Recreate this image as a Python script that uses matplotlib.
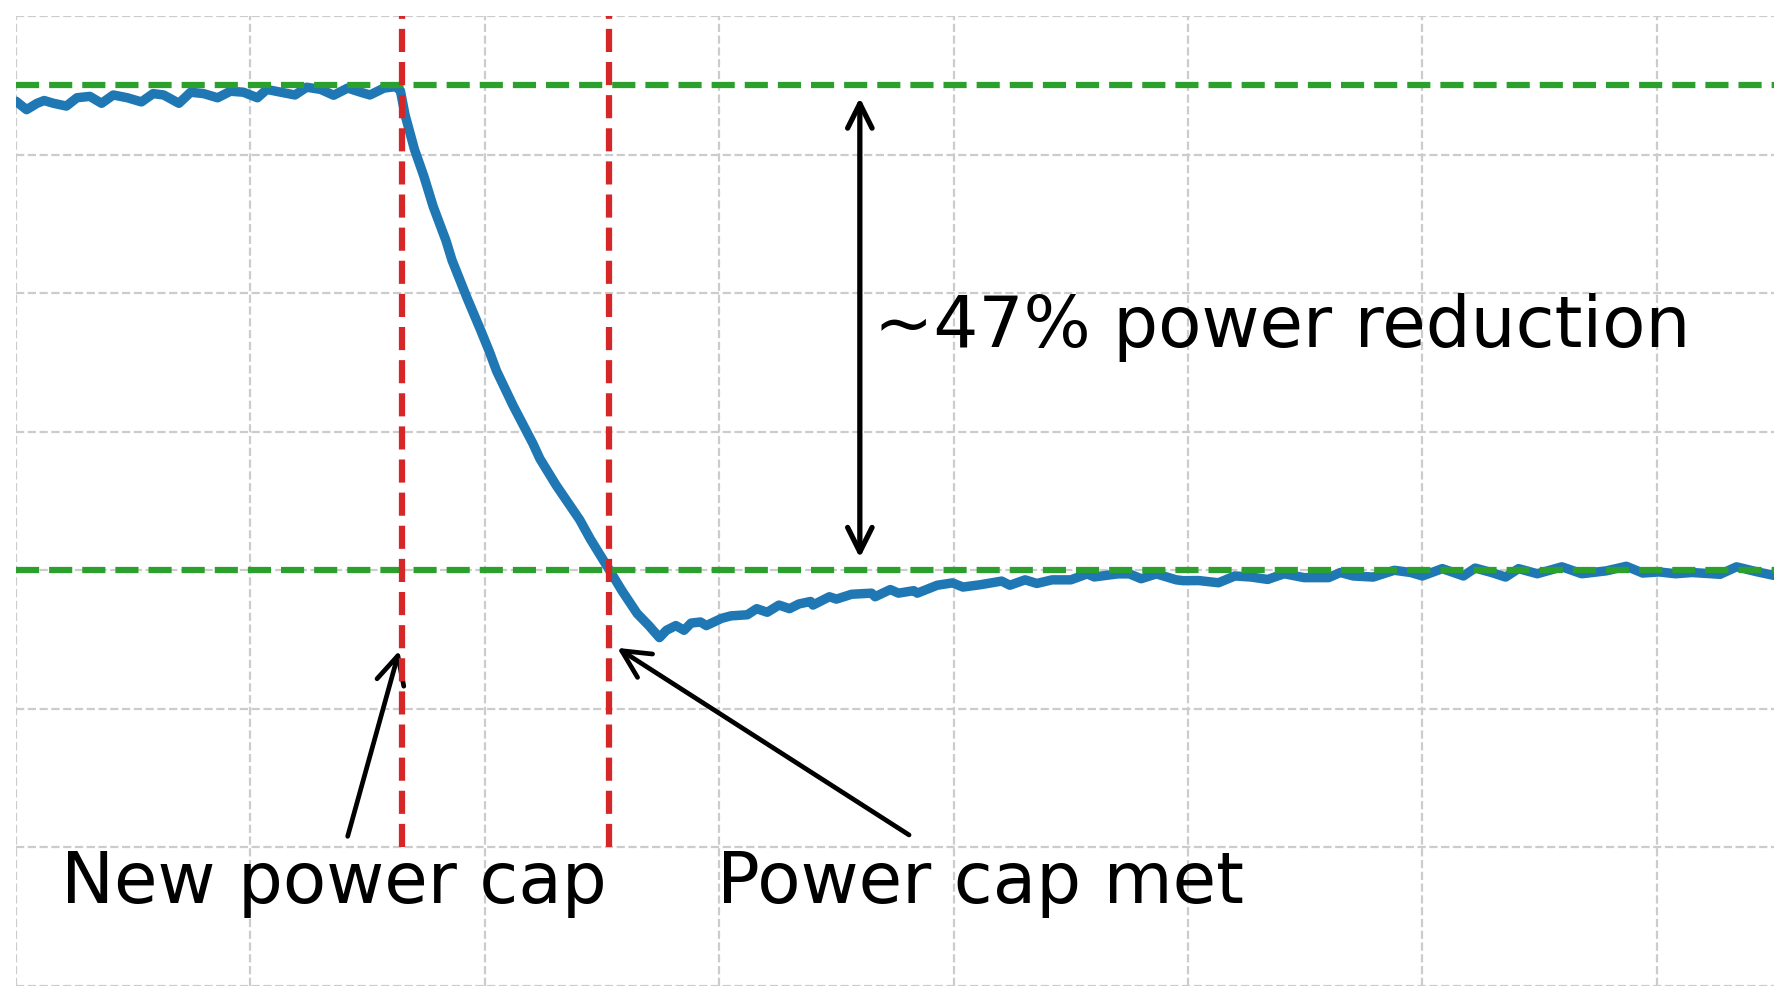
"""
Power cap response: measured power before/after a new cap is applied.
"""

import matplotlib
matplotlib.use('Agg')
import matplotlib.pyplot as plt

# =========================================================================
# Data
# =========================================================================
time_s = [
    0.00, 0.09, 0.18, 0.24, 0.32, 0.43, 0.52, 0.63, 0.73, 0.83,
    0.95, 1.07, 1.17, 1.26, 1.39, 1.49, 1.60, 1.72, 1.83, 1.94,
    2.06, 2.14, 2.26, 2.38, 2.48, 2.60, 2.71, 2.83, 2.94, 3.02,
    3.14, 3.24,
    3.28, 3.32, 3.40, 3.48, 3.56, 3.67, 3.72, 3.85, 3.96, 4.04,
    4.10, 4.24, 4.41, 4.47, 4.61, 4.81, 4.90, 5.06,
    5.17, 5.30, 5.40, 5.49, 5.55, 5.63, 5.70, 5.76, 5.84, 5.89,
    6.02, 6.10, 6.24, 6.32, 6.41, 6.51, 6.60, 6.68, 6.78, 6.80,
    6.94, 7.00, 7.13, 7.30, 7.33, 7.46, 7.53, 7.66, 7.69, 7.86,
    7.99, 8.08, 8.23, 8.41, 8.48, 8.61, 8.71, 8.84, 9.00, 9.14,
    9.20, 9.40, 9.50, 9.60, 9.73, 9.90, 9.96,
    10.09, 10.26, 10.40, 10.54, 10.68, 10.82, 10.99, 11.20, 11.30, 11.41,
    11.58, 11.76, 11.90, 12.00, 12.17, 12.35, 12.45, 12.59, 12.71, 12.82,
    12.98, 13.19, 13.36, 13.57, 13.74, 13.88, 14.02, 14.16, 14.30, 14.54,
    14.68, 14.86, 15.00,
]
power_w = [
    738.5, 732.4, 737.0, 739.0, 737.0, 735.0, 741.0, 742.0, 737.0, 743.0,
    741.0, 738.0, 744.0, 743.0, 737.0, 745.0, 744.0, 741.0, 745.7, 745.0,
    741.0, 747.0, 745.0, 743.0, 748.6, 747.0, 742.8, 748.0, 745.0, 743.0,
    748.0, 749.0,
    746.0, 728.5, 703.7, 684.4, 662.4, 637.6, 623.8, 596.2, 574.2, 557.6,
    543.9, 519.1, 491.5, 480.5, 461.2, 436.4, 422.6, 400.6,
    385.3, 368.8, 360.1, 351.4, 356.7, 360.1, 356.7, 361.9, 362.7, 360.1,
    365.3, 367.1, 367.9, 372.3, 369.7, 374.9, 372.3, 375.7, 377.5, 374.9,
    380.9, 379.2, 382.7, 383.5, 380.9, 386.1, 383.5, 385.3, 383.5, 389.2,
    390.9, 387.9, 389.6, 392.2, 389.2, 393.1, 390.5, 393.1, 393.1, 397.4,
    395.2, 397.4, 397.4, 393.9, 397.4, 393.1, 392.5,
    392.6, 391.0, 395.9, 395.1, 393.4, 397.5, 394.7, 394.7, 398.4, 395.9,
    395.1, 400.0, 398.4, 395.9, 401.2, 395.9, 401.6, 398.4, 395.1, 401.2,
    397.5, 402.5, 397.5, 399.6, 402.9, 398.0, 398.8, 397.5, 398.4, 397.1,
    402.5, 398.8, 396.3,
]

OLD_LEVEL = 750       # W, before the cap
NEW_CAP = 400         # W, new power cap
CAP_SET_T = 3.29      # s, new cap applied
CAP_MET_T = 5.06      # s, cap reached

x_ticks = [0, 2, 4, 6, 8, 10, 12, 14]
y_ticks = [100, 200, 300, 400, 500, 600, 700, 800]


def main():
    fig = plt.figure(figsize=(17.89, 10.02), dpi=100)
    ax = fig.add_axes([16 / 1789, 16 / 1002, 1758 / 1789, 970 / 1002])

    # 功率曲线
    ax.plot(time_s, power_w, color='#1f77b4', linewidth=6.8, zorder=3,
            solid_joinstyle='round', solid_capstyle='round')

    # 原功率 / 新功率上限
    for lvl in (OLD_LEVEL, NEW_CAP):
        ax.axhline(lvl, color='#2ca02c', linestyle='--', linewidth=4.5, zorder=4)

    # 上限设定时刻 / 达到上限时刻
    ax.vlines([CAP_SET_T, CAP_MET_T], 200, 800, colors='#d62728',
              linestyles='--', linewidth=4.5, zorder=5)

    # 降幅双箭头
    ax.annotate('', xy=(7.2, OLD_LEVEL), xytext=(7.2, NEW_CAP),
                arrowprops=dict(arrowstyle='<->', color='black', lw=3.8,
                                mutation_scale=44, shrinkA=9, shrinkB=9),
                zorder=6)
    pct = round((OLD_LEVEL - NEW_CAP) / OLD_LEVEL * 100)
    ax.text(7.32, (OLD_LEVEL + NEW_CAP) / 2, f'~{pct}% power reduction',
            fontsize=51, ha='left', va='center')

    # 注释文字与箭头
    arrow_kw = dict(arrowstyle='->', color='black', lw=3.4,
                    mutation_scale=50, shrinkA=0, shrinkB=0)
    ax.text(2.71, 160, 'New power cap', fontsize=51, ha='center', va='baseline')
    ax.annotate('', xy=(3.27, 342), xytext=(2.83, 208), arrowprops=arrow_kw)
    ax.text(8.23, 160, 'Power cap met', fontsize=51, ha='center', va='baseline')
    ax.annotate('', xy=(5.13, 344), xytext=(7.62, 209), arrowprops=arrow_kw)

    ax.set_xlim(0, 15)
    ax.set_ylim(100, 800)
    ax.set_xticks(x_ticks)
    ax.set_yticks(y_ticks)
    ax.set_xticklabels([])
    ax.set_yticklabels([])
    ax.tick_params(length=0)
    for s in ax.spines.values():
        s.set_visible(False)
    ax.grid(True, color='#cccccc', linestyle='--', linewidth=1.6, zorder=0)
    ax.set_axisbelow(True)

    fig.savefig('out.png', dpi=100)
    plt.close(fig)


if __name__ == '__main__':
    main()
